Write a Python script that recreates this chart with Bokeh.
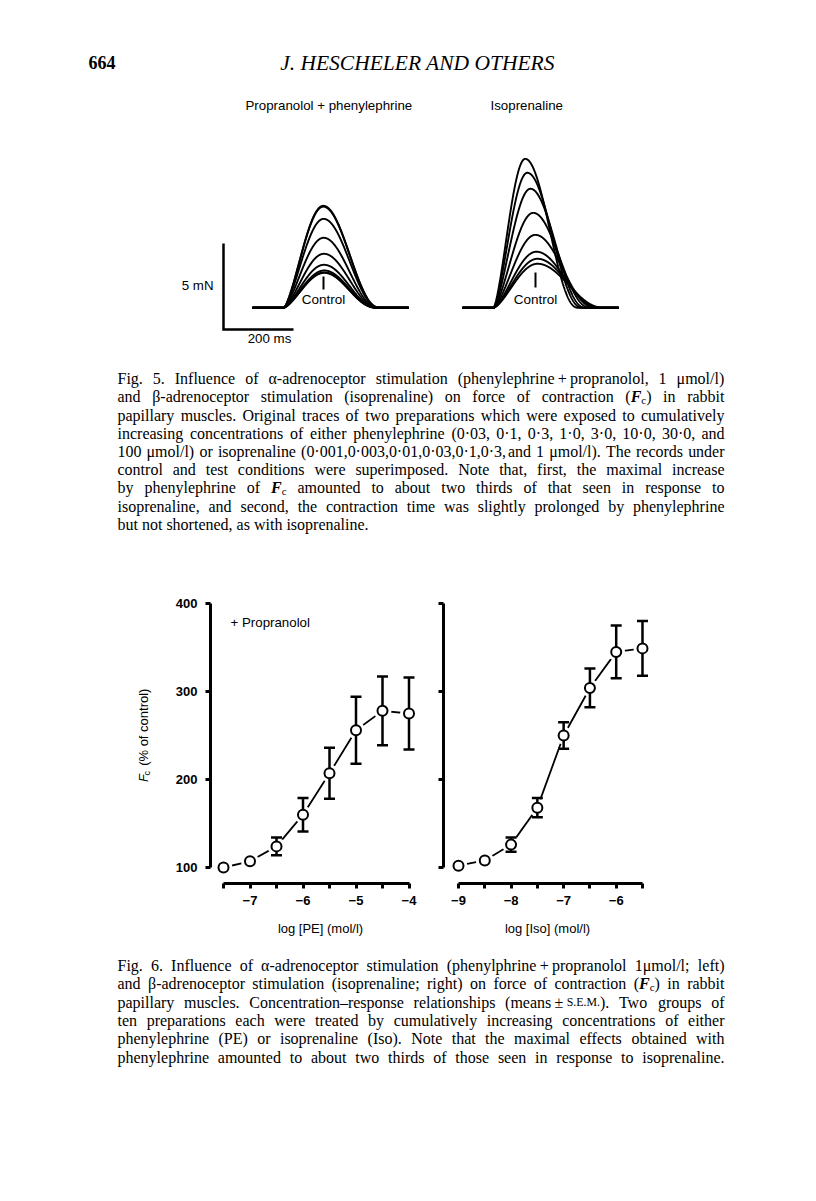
import numpy as np
from bokeh.plotting import figure
from bokeh.models import Range1d, FixedTicker, Label, CustomJSTickFormatter
from bokeh.layouts import column, row
from bokeh.embed import file_html
from bokeh.resources import INLINE
from bokeh.core.properties import value

# ---------------- data: concentration-response (Fig. 6) ----------------
pe_log = [-7.5, -7.0, -6.5, -6.0, -5.5, -5.0, -4.5, -4.0]
pe_mean = [100, 107, 124, 160, 207, 256, 278, 275]
pe_sem = [0, 0, 10, 19, 29, 38, 39, 41]

iso_log = [-9.0, -8.5, -8.0, -7.5, -7.0, -6.5, -6.0, -5.5]
iso_mean = [102, 108, 126, 168, 250, 304, 345, 349]
iso_sem = [0, 0, 8, 11, 15, 22, 30, 31]

y_ticks = [100, 200, 300, 400]
pe_ticks = [-7, -6, -5, -4]
pe_minor = [-7.5, -6.5, -5.5, -4.5]
iso_ticks = [-9, -8, -7, -6]
iso_minor = [-8.5, -7.5, -6.5, -5.5]

# ---------------- data: twitch traces (Fig. 5) ----------------
# control first, then increasing concentrations; amplitude (mN), onset->peak (ms), peak->rest (ms)
pe_amp = [2.03, 2.06, 2.17, 2.50, 3.14, 4.07, 5.17, 5.93, 5.88]
pe_ttp = [117, 117, 117, 116, 116, 115, 115, 114, 114]
pe_decay = [150, 150, 152, 154, 156, 158, 160, 162, 162]

iso_amp = [2.56, 2.85, 3.26, 4.24, 5.52, 6.92, 7.85, 8.66]
iso_ttp = [126, 126, 123, 120, 114, 106, 97, 91]
iso_decay = [191, 183, 177, 171, 163, 157, 157, 151]

scale_ms = 200
scale_mN = 5

fig5_lines = [
    "Fig. 5. Influence of \u03b1-adrenoceptor stimulation (phenylephrine\u2009+\u2009propranolol, 1 \u03bcmol/l)",
    "and \u03b2-adrenoceptor stimulation (isoprenaline) on force of contraction (F_c) in rabbit",
    "papillary muscles. Original traces of two preparations which were exposed to cumulatively",
    "increasing concentrations of either phenylephrine (0\u00b703, 0\u00b71, 0\u00b73, 1\u00b70, 3\u00b70, 10\u00b70, 30\u00b70, and",
    "100 \u03bcmol/l) or isoprenaline (0\u00b7001,0\u00b7003,0\u00b701,0\u00b703,0\u00b71,0\u00b73, and 1 \u03bcmol/l). The records under",
    "control and test conditions were superimposed. Note that, first, the maximal increase",
    "by phenylephrine of F_c amounted to about two thirds of that seen in response to",
    "isoprenaline, and second, the contraction time was slightly prolonged by phenylephrine",
    "but not shortened, as with isoprenaline.",
]
fig6_lines = [
    "Fig. 6. Influence of \u03b1-adrenoceptor stimulation (phenylphrine\u2009+\u2009propranolol 1\u03bcmol/l; left)",
    "and \u03b2-adrenoceptor stimulation (isoprenaline; right) on force of contraction (F_c) in rabbit",
    "papillary muscles. Concentration\u2013response relationships (means\u2009\u00b1\u2009S.E.M.). Two groups of",
    "ten preparations each were treated by cumulatively increasing concentrations of either",
    "phenylephrine (PE) or isoprenaline (Iso). Note that the maximal effects obtained with",
    "phenylephrine amounted to about two thirds of those seen in response to isoprenaline.",
]

SERIF = "Liberation Serif"
SANS = "Liberation Sans"

# Times / Liberation Serif advance widths (em)
TW = {' ': .25, '(': .333, ')': .333, ',': .25, '-': .333, '.': .25, '/': .278, ':': .278, ';': .278,
      '+': .564, '\u00b1': .564, '\u00b7': .3, '\u2013': .5, '\u2009': .2, '%': .833,
      'A': .722, 'B': .667, 'C': .667, 'D': .722, 'E': .611, 'F': .556, 'G': .722, 'H': .722, 'I': .333,
      'J': .389, 'K': .722, 'L': .611, 'M': .889, 'N': .722, 'O': .722, 'P': .556, 'Q': .722, 'R': .667,
      'S': .556, 'T': .611, 'U': .722, 'V': .722, 'W': .944, 'X': .722, 'Y': .722, 'Z': .611,
      'a': .444, 'b': .5, 'c': .444, 'd': .5, 'e': .444, 'f': .333, 'g': .5, 'h': .5, 'i': .278, 'j': .278,
      'k': .5, 'l': .278, 'm': .778, 'n': .5, 'o': .5, 'p': .5, 'q': .5, 'r': .333, 's': .389, 't': .278,
      'u': .5, 'v': .5, 'w': .722, 'x': .5, 'y': .5, 'z': .444,
      '\u03b1': .53, '\u03b2': .5, '\u03bc': .55}
for d in "0123456789":
    TW[d] = .5


def text_w(s, style):
    if style == "bold italic" and s == "F":
        return .667
    return sum(TW.get(ch, .5) for ch in s)


def word_runs(word):
    runs, i = [], 0
    while i < len(word):
        if word.startswith("F_c", i):
            runs.append(("F", "bold italic", 1.0, 0.0))
            runs.append(("c", "normal", 0.68, 0.22))
            i += 3
        elif word.startswith("S.E.M.", i):
            runs.append(("S.E.M.", "normal", 0.74, 0.0))
            i += 6
        else:
            j = i
            while j < len(word) and not word.startswith("F_c", j) and not word.startswith("S.E.M.", j):
                j += 1
            runs.append((word[i:j], "normal", 1.0, 0.0))
            i = j
    return runs


def render_caption(p, lines, x_left, width, y_first, dy, base_size, justify_last):
    groups = {}
    for i, line in enumerate(lines):
        words = line.split(" ")
        runs = [word_runs(w) for w in words]
        wl = [sum(text_w(t, st) * sc for (t, st, sc, _) in rs) for rs in runs]
        last = (i == len(lines) - 1) and not justify_last
        size = base_size
        if not last:
            need = sum(wl) + 0.32 * (len(words) - 1)
            size = min(base_size, width / need)
            gap = (width - sum(wl) * size) / (len(words) - 1)
        else:
            gap = 0.25 * size
        x = x_left
        yb = y_first + i * dy + 0.32 * size
        for rs in runs:
            for (t, st, sc, ddy) in rs:
                key = (st, round(size * sc, 2))
                g = groups.setdefault(key, ([], [], []))
                g[0].append(x)
                g[1].append(yb + ddy * size)
                g[2].append(t)
                x += text_w(t, st) * sc * size
            x += gap
    for (st, sz), (xs, ys, ts) in groups.items():
        p.text(x=xs, y=ys, text=ts, text_font=value(SERIF), text_font_size=value(f"{sz}px"),
               text_font_style=value(st), text_baseline=value("alphabetic"),
               text_align=value("left"), text_color="black")


def page_fig(x0, x1, y0, y1):
    p = figure(width=x1 - x0, height=y1 - y0, x_range=Range1d(x0, x1), y_range=Range1d(y1, y0),
               x_axis_type=None, y_axis_type=None, output_backend="svg", toolbar_location=None,
               min_border=0, outline_line_color=None, title=None)
    p.grid.visible = False
    return p


def txt(p, x, y, s, size, font=SANS, style="normal", align="left", baseline="middle", angle=0):
    p.text(x=[x], y=[y], text=[s], text_font=value(font), text_font_size=value(f"{size}px"),
           text_font_style=value(style), text_align=value(align), text_baseline=value(baseline),
           angle=angle, text_color="black")


def twitch(t, A, tp, dc, kr=1.5, kd=2.2):
    f = np.zeros_like(t)
    r = (t >= 0) & (t < tp)
    f[r] = A * np.sin(np.pi / 2 * t[r] / tp) ** kr
    d = (t >= tp) & (t < tp + dc)
    f[d] = A * np.cos(np.pi / 2 * (t[d] - tp) / dc) ** kd
    return f


PAGE_W = 816

# ---------------- top block: header, traces, Fig. 5 caption ----------------
TOP_Y0, TOP_Y1 = 0, 585
top = page_fig(0, PAGE_W, TOP_Y0, TOP_Y1)

txt(top, 88, 62, "664", 18, font=SERIF, style="bold")
txt(top, 417, 62, "J. HESCHELER AND OTHERS", 21.5, font=SERIF, style="italic", align="center")

txt(top, 245, 105, "Propranolol + phenylephrine", 13.3)
txt(top, 490, 105, "Isoprenaline", 13.3)

PX_MS, PX_MN = 0.35, 17.2
X_T0, Y_F0 = 223, 307.3
top.extra_x_ranges = {"ms": Range1d((0 - X_T0) / PX_MS, (PAGE_W - X_T0) / PX_MS)}
top.extra_y_ranges = {"mN": Range1d((Y_F0 - TOP_Y1) / PX_MN, (Y_F0 - TOP_Y0) / PX_MN)}

t_rel = np.linspace(-88, 358, 900)
xs, ys = [], []
for onset, amps, ttps, decs in [(171, pe_amp, pe_ttp, pe_decay), (771, iso_amp, iso_ttp, iso_decay)]:
    for A, tp, dc in zip(amps, ttps, decs):
        xs.append(onset + t_rel)
        ys.append(twitch(t_rel, A, tp, dc))
top.multi_line(xs, ys, x_range_name="ms", y_range_name="mN", line_color="black", line_width=1.9)

fb = (Y_F0 - 329) / PX_MN
top.line([0, 0, scale_ms], [fb + scale_mN, fb, fb], x_range_name="ms", y_range_name="mN",
         line_color="black", line_width=2.5, line_join="miter")
txt(top, 213, 285, "5 mN", 13.3, align="right")
txt(top, 269, 338, "200 ms", 13.3, align="center")

top.segment(x0=[323, 535], y0=[276, 272], x1=[323, 535], y1=[289, 287], line_color="black", line_width=2)
txt(top, 323, 299, "Control", 13.5, align="center")
txt(top, 535, 299, "Control", 13.5, align="center")

render_caption(top, fig5_lines, 117, 607, 373, 18.2, 16, justify_last=False)

# ---------------- middle block: concentration-response charts ----------------
MID_Y0, MID_Y1 = 585, 940
MID_H = MID_Y1 - MID_Y0
PX_Y = 0.88
Y_LO = 100 - 16 / PX_Y
Y_HI = Y_LO + 288 / PX_Y

YLAB_W = 162
ylab = page_fig(0, YLAB_W, MID_Y0, MID_Y1)
YL0 = 815
ylab.text(x=[143], y=[YL0], text=["F"], text_font=value(SANS), text_font_size=value("13px"),
          text_font_style=value("italic"), text_baseline=value("middle"), angle=np.pi / 2,
          text_color="black")
ylab.text(x=[146.5], y=[YL0 - 8], text=["c"], text_font=value(SANS), text_font_size=value("9px"),
          text_baseline=value("middle"), angle=np.pi / 2, text_color="black")
ylab.text(x=[143], y=[YL0 - 20], text=["(% of control)"], text_font=value(SANS),
          text_font_size=value("13px"), text_baseline=value("middle"), angle=np.pi / 2,
          text_color="black")


def chart(width, bl, br, x_first, px_unit, xs_, ys_, se_, major, minor, xlabel, ylabels):
    frame_w = width - bl - br
    p = figure(width=width, height=MID_H, x_range=Range1d(x_first, x_first + frame_w / px_unit),
               y_range=Range1d(Y_LO, Y_HI), output_backend="svg", toolbar_location=None,
               min_border_left=bl, min_border_right=br, min_border_top=10, min_border_bottom=57,
               outline_line_color=None, title=None)
    p.grid.visible = False
    xa, ya = p.xaxis[0], p.yaxis[0]
    for ax in (xa, ya):
        ax.axis_line_width = 3
        ax.axis_line_color = "black"
        ax.major_tick_line_width = 3
        ax.minor_tick_line_width = 3
        ax.major_tick_line_color = "black"
        ax.minor_tick_line_color = "black"
        ax.major_tick_in = 0
        ax.minor_tick_in = 0
        ax.major_tick_out = 5
        ax.minor_tick_out = 5
        ax.major_label_text_font = SANS
        ax.major_label_text_font_style = "bold"
        ax.major_label_text_color = "black"
    xa.ticker = FixedTicker(ticks=major, minor_ticks=minor)
    xa.bounds = (min(major + minor), max(major + minor))
    xa.formatter = CustomJSTickFormatter(
        code="return (tick < 0 ? '\u2212' : '') + Math.abs(tick).toFixed(0);")
    xa.major_label_text_font_size = "13px"
    xa.major_label_standoff = 7
    xa.axis_label = xlabel
    xa.axis_label_text_font = SANS
    xa.axis_label_text_font_style = "normal"
    xa.axis_label_text_font_size = "13px"
    xa.axis_label_text_color = "black"
    xa.axis_label_standoff = 13
    ya.ticker = FixedTicker(ticks=y_ticks, minor_ticks=[])
    ya.bounds = (min(y_ticks), max(y_ticks))
    ya.major_label_text_font_size = "13px"
    if ylabels:
        ya.major_label_standoff = 8
    else:
        ya.formatter = CustomJSTickFormatter(code="return '';")
        ya.major_label_standoff = 0

    p.line(xs_, ys_, line_color="black", line_width=1.8)
    p.scatter(xs_, ys_, size=18, fill_color="white", line_color=None)
    ex = [x for x, s in zip(xs_, se_) if s > 0]
    lo = [y - s for y, s in zip(ys_, se_) if s > 0]
    hi = [y + s for y, s in zip(ys_, se_) if s > 0]
    p.segment(x0=ex, y0=lo, x1=ex, y1=hi, line_color="black", line_width=2.5)
    p.scatter(ex, lo, marker="dash", size=11, line_color="black", line_width=2.5)
    p.scatter(ex, hi, marker="dash", size=11, line_color="black", line_width=2.5)
    p.scatter(xs_, ys_, size=10, fill_color="white", line_color="black", line_width=2)
    return p


left = chart(432 - YLAB_W, 210 - YLAB_W, 2, -7.5 - 13 / 53.0, 53.0, pe_log, pe_mean, pe_sem,
             pe_ticks, pe_minor, "log [PE] (mol/l)", True)
left.add_layout(Label(x=-7.5 + 7 / 53.0, y=100 + (867 - 622) / PX_Y, text="+ Propranolol",
                      text_font=SANS, text_font_size="13.3px", text_baseline="middle",
                      text_color="black"))
right = chart(228, 11, 9, -9.0 - 15 / 52.57, 52.57, iso_log, iso_mean, iso_sem,
              iso_ticks, iso_minor, "log [Iso] (mol/l)", False)

mid = row(ylab, left, right)

# ---------------- bottom block: Fig. 6 caption ----------------
BOT_Y0, BOT_Y1 = 940, 1195
bot = page_fig(0, PAGE_W, BOT_Y0, BOT_Y1)
render_caption(bot, fig6_lines, 117, 607, 960, 18.3, 16, justify_last=True)

page = column(top, mid, bot)
open("out.html", "w").write(file_html(page, INLINE))
